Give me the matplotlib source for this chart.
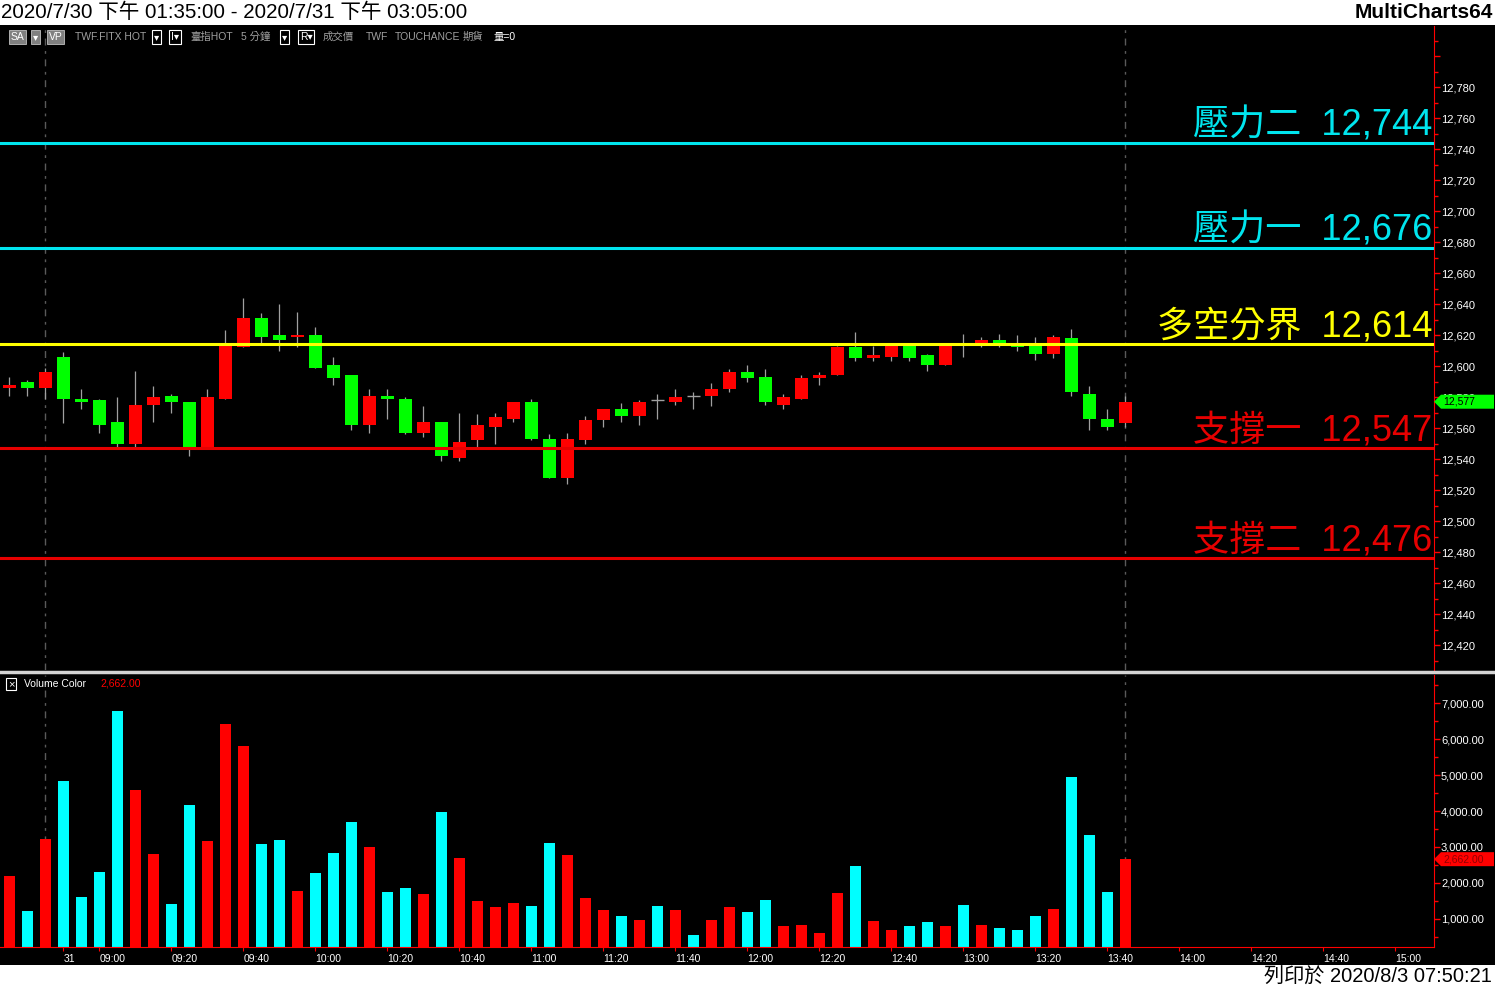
import matplotlib
matplotlib.use("Agg")
import matplotlib.pyplot as plt
import numpy as np
from matplotlib.patches import Rectangle, Polygon
from matplotlib.lines import Line2D
from matplotlib.transforms import IdentityTransform
from matplotlib.ticker import MultipleLocator, FuncFormatter

# 5-minute bars, TWF.FITX HOT (7/30 13:40 .. 7/31 13:45)
opens = [12586, 12590, 12586, 12606, 12579, 12578, 12564, 12550, 12575, 12581,
         12577, 12548, 12579, 12612, 12631, 12620, 12619, 12620, 12601, 12594,
         12562, 12581, 12579, 12557, 12564, 12541, 12552, 12561, 12566, 12577,
         12553, 12528, 12552, 12565, 12572, 12568, 12578, 12577, 12581, 12581,
         12585, 12596, 12593, 12575, 12579, 12592, 12594, 12612, 12605, 12606,
         12613, 12607, 12601, 12614, 12613, 12617, 12615, 12614, 12608, 12618,
         12582, 12566, 12563]
highs = [12593, 12591, 12599, 12609, 12585, 12579, 12580, 12597, 12587, 12582,
         12577, 12585, 12623, 12644, 12634, 12640, 12635, 12625, 12606, 12594,
         12585, 12585, 12580, 12574, 12564, 12570, 12569, 12570, 12577, 12579,
         12556, 12557, 12568, 12572, 12576, 12578, 12582, 12585, 12583, 12589,
         12598, 12601, 12598, 12582, 12594, 12596, 12613, 12622, 12613, 12614,
         12614, 12608, 12614, 12621, 12619, 12621, 12620, 12619, 12620, 12624,
         12587, 12572, 12581]
lows = [12581, 12581, 12579, 12563, 12572, 12557, 12548, 12548, 12564, 12570,
        12542, 12547, 12579, 12612, 12615, 12610, 12612, 12599, 12588, 12559,
        12557, 12566, 12556, 12554, 12539, 12539, 12548, 12550, 12564, 12552,
        12528, 12524, 12550, 12561, 12564, 12562, 12566, 12575, 12572, 12574,
        12583, 12590, 12575, 12572, 12579, 12588, 12594, 12603, 12603, 12603,
        12603, 12597, 12601, 12606, 12612, 12612, 12610, 12604, 12605, 12581,
        12559, 12559, 12561]
closes = [12588, 12586, 12596, 12579, 12577, 12562, 12550, 12575, 12580, 12577,
          12548, 12580, 12614, 12631, 12619, 12617, 12620, 12599, 12592, 12562,
          12581, 12579, 12557, 12564, 12542, 12551, 12562, 12567, 12577, 12553,
          12528, 12553, 12565, 12572, 12568, 12577, 12578, 12580, 12581, 12585,
          12596, 12592, 12577, 12580, 12592, 12594, 12612, 12605, 12607, 12613,
          12605, 12601, 12613, 12614, 12617, 12613, 12612, 12608, 12619, 12583,
          12566, 12561, 12577]
volumes = [2190, 1220, 3220, 4830, 1610, 2310, 6780, 4580, 2810, 1420,
           4170, 3170, 6420, 5810, 3080, 3190, 1780, 2280, 2830, 3690,
           3000, 1750, 1860, 1690, 3970, 2690, 1500, 1330, 1440, 1360,
           3110, 2780, 1580, 1250, 1080, 970, 1360, 1250, 560, 970,
           1330, 1190, 1530, 810, 830, 610, 1720, 2470, 940, 690,
           810, 920, 810, 1390, 830, 750, 690, 1080, 1280, 4940,
           3330, 1750, 2662]

time_labels = ["31", "09:00", "09:20", "09:40", "10:00", "10:20", "10:40", "11:00",
               "11:20", "11:40", "12:00", "12:20", "12:40", "13:00", "13:20", "13:40",
               "14:00", "14:20", "14:40", "15:00"]
time_ticks = [3, 5, 9, 13, 17, 21, 25, 29, 33, 37, 41, 45, 49, 53, 57, 61, 65, 69, 73, 77]
session_marks = [2, 62]

level_names = ["壓力二", "壓力一", "多空分界", "支撐一", "支撐二"]
level_values = [12744, 12676, 12614, 12547, 12476]
level_colors = ["#00e5ee", "#00e5ee", "#ffff00", "#e60000", "#e60000"]

FONT = ["Liberation Sans", "Noto Sans CJK TC", "DejaVu Sans"]
plt.rcParams["font.family"] = FONT

W, H = 1495, 988


def fx(px):
    return px / W


def fy(py):
    return 1 - py / H


fig = plt.figure(figsize=(W / 100, H / 100), dpi=100, facecolor="black")
ax_p = fig.add_axes([0, fy(670), fx(1434), (670 - 26) / H])
ax_v = fig.add_axes([0, fy(947), fx(1434), (947 - 675) / H])

for ax in (ax_p, ax_v):
    ax.set_facecolor("black")
    for s in ("top", "left", "bottom"):
        ax.spines[s].set_visible(False)
    ax.spines["right"].set_color("red")
    ax.yaxis.tick_right()
    ax.tick_params(axis="y", which="both", colors="red", labelcolor="white",
                   labelsize=8, width=1, direction="out")
    ax.tick_params(axis="y", which="major", length=4, pad=1)
    ax.tick_params(axis="y", which="minor", length=3)
    ax.set_xlim(-0.52, 79.15)
    for m in session_marks:
        ax.axvline(m, color="#5a5a5a", lw=1, ls=(0, (5, 4, 2, 4)), zorder=1)

o = np.array(opens)
h = np.array(highs)
l = np.array(lows)
c = np.array(closes)
x = np.arange(len(o))
up = c > o
down = c < o
flat = c == o

# candles (red up, green down, grey cross when unchanged)
ax_p.vlines(x, l, h, color="#a0a0a0", lw=0.9, zorder=2)
bottom = np.minimum(o, c)
height = np.abs(c - o)
ax_p.bar(x[up], height[up], bottom=bottom[up], width=0.7, color="#ff0000", lw=0, zorder=3)
ax_p.bar(x[down], height[down], bottom=bottom[down], width=0.7, color="#00ff00", lw=0, zorder=3)
ax_p.hlines(c[flat], x[flat] - 0.35, x[flat] + 0.35, color="#a0a0a0", lw=1, zorder=3)

ax_p.set_ylim(12403.9, 12819.4)
ax_p.yaxis.set_major_locator(MultipleLocator(20))
ax_p.yaxis.set_minor_locator(MultipleLocator(10))
ax_p.yaxis.set_major_formatter(FuncFormatter(lambda v, _: "" if v > 12790 else f"{v:,.0f}"))
ax_p.tick_params(axis="x", bottom=False, labelbottom=False)

for name, val, col in zip(level_names, level_values, level_colors):
    ax_p.axhline(val, color=col, lw=2.2, zorder=4)
    ax_p.annotate(f"{name}  {val:,}", xy=(1, val), xycoords=("axes fraction", "data"),
                  xytext=(-1.5, 5.4), textcoords="offset points", ha="right",
                  va="baseline", fontsize=26, color=col, zorder=5)

# volume
vol_colors = ["#ff0000" if u else "#00ffff" for u in up]
ax_v.bar(x, volumes, width=0.62, color=vol_colors, lw=0, zorder=2)
ax_v.set_ylim(222, 7778)
ax_v.yaxis.set_major_locator(MultipleLocator(1000))
ax_v.yaxis.set_minor_locator(MultipleLocator(500))
ax_v.yaxis.set_major_formatter(FuncFormatter(lambda v, _: f"{v:,.2f}"))
ax_v.spines["bottom"].set_visible(True)
ax_v.spines["bottom"].set_color("red")
ax_v.set_xticks(time_ticks)
ax_v.set_xticklabels(time_labels, ha="left")
ax_v.tick_params(axis="x", colors="red", labelcolor="white", labelsize=7.5,
                 length=3, pad=2)

# pane separator
fig.add_artist(Line2D([0, 1], [fy(672), fy(672)], transform=fig.transFigure,
                      color="#d4d4d4", lw=2.5))


def tag(ax, value, text, fc, tc):
    y = ax.transData.transform((0, value))[1]
    pts = [(1434, y), (1441, y + 7), (1494, y + 7), (1494, y - 7), (1441, y - 7)]
    fig.add_artist(Polygon(pts, closed=True, transform=IdentityTransform(),
                           fc=fc, ec="none", zorder=6))
    fig.text(fx(1443), y / H, text, ha="left", va="center", color=tc,
             fontsize=7.5, zorder=7)


tag(ax_p, closes[-1], f"{closes[-1]:,}", "#00ff00", "black")
tag(ax_v, volumes[-1], f"{volumes[-1]:,.2f}", "#ff0000", "#900000")

# volume legend
fig.text(fx(11), fy(684), "×", ha="center", va="center", color="white", fontsize=8,
         bbox=dict(boxstyle="square,pad=0.12", fc="none", ec="white", lw=0.8))
fig.text(fx(24), fy(684), "Volume Color", ha="left", va="center", color="white", fontsize=7.5)
fig.text(fx(100), fy(684), f"{volumes[-1]:,.2f}", ha="left", va="center",
         color="#ff0000", fontsize=7.5)

# toolbar row
tb_items = [
    (11, "SA", "white", "#808080"), (33, "▾", "white", "#808080"),
    (49, "VP", "white", "#808080"), (75, "TWF.FITX HOT", "#a0a0a0", None),
    (154, "▾", "white", "box"), (171, "I▾", "white", "box"),
    (190, "臺指HOT", "#a0a0a0", None), (241, "5 分鐘", "#a0a0a0", None),
    (282, "▾", "white", "box"), (300, "R▾", "white", "box"),
    (323, "成交價", "#a0a0a0", None), (366, "TWF", "#a0a0a0", None),
    (395, "TOUCHANCE", "#a0a0a0", None), (463, "期貨", "#a0a0a0", None),
    (493, "量=0", "white", None),
]
for xp, s, col, box in tb_items:
    kw = {}
    if box == "box":
        kw["bbox"] = dict(boxstyle="square,pad=0.15", fc="black", ec="white", lw=0.8)
    elif box:
        kw["bbox"] = dict(boxstyle="square,pad=0.15", fc=box, ec="#c0c0c0", lw=0.6)
    fig.text(fx(xp), fy(37), s, ha="left", va="center", color=col, fontsize=7.5, **kw)

# title and footer strips
fig.add_artist(Rectangle((0, fy(25)), 1, 25 / H, transform=fig.transFigure,
                         fc="white", ec="none", zorder=8))
fig.add_artist(Rectangle((0, 0), 1, (988 - 965) / H, transform=fig.transFigure,
                         fc="white", ec="none", zorder=8))
fig.text(fx(1), fy(12.5), "2020/7/30 下午 01:35:00 - 2020/7/31 下午 03:05:00",
         ha="left", va="center", color="black", fontsize=14.8, zorder=9)
fig.text(fx(1493), fy(12.5), "MultiCharts64", ha="right", va="center",
         color="black", fontsize=15, fontweight="bold", zorder=9)
fig.text(fx(1492), fy(977), "列印於 2020/8/3 07:50:21", ha="right", va="center",
         color="black", fontsize=14.5, zorder=9)

fig.savefig("out.png", dpi=100, facecolor="black")
